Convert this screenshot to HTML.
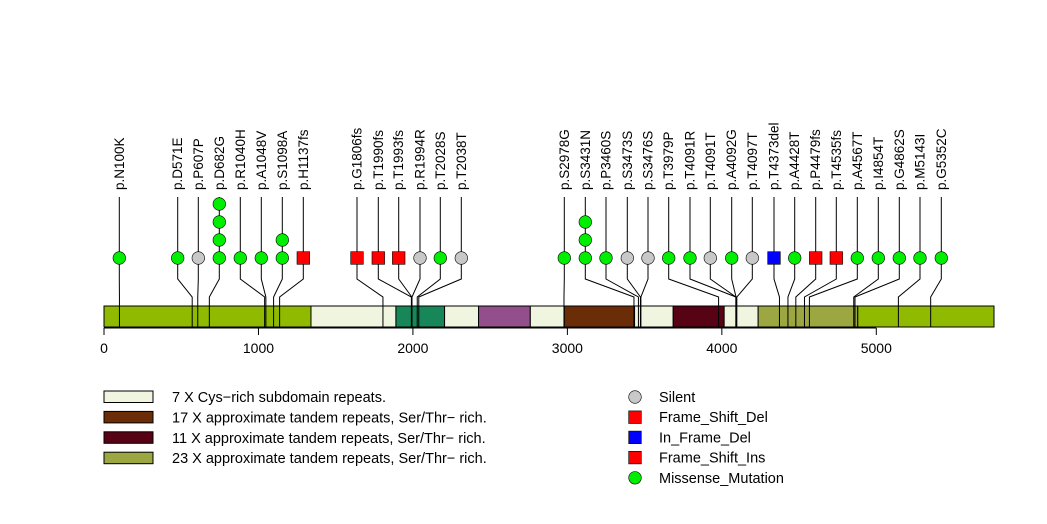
<!DOCTYPE html>
<html><head><meta charset="utf-8">
<style>
html,body{margin:0;padding:0;background:#fff;}
svg{display:block;font-family:"Liberation Sans",Arial,sans-serif;}
</style></head>
<body>
<svg id="chart" width="1047" height="524" viewBox="0 0 1047 524" xmlns="http://www.w3.org/2000/svg"></svg>
<script>
const proteinLength = 5762;
const domainStarts = [1340, 1890, 2205, 2425, 2760, 2980, 3435, 3685, 4015, 4235, 4880];
const domainEnds   = [1890, 2205, 2425, 2760, 2980, 3435, 3685, 4015, 4235, 4880, 5762];
const domainColors = ["#f0f5e0","#17875a","#f0f5e0","#924f8c","#f0f5e0","#6b2c08","#f0f5e0","#580315","#f0f5e0","#9ca742","#8fba00"];
const mutLabels = ["p.N100K","p.D571E","p.P607P","p.D682G","p.R1040H","p.A1048V","p.S1098A","p.H1137fs","p.G1806fs","p.T1990fs","p.T1993fs","p.R1994R","p.T2028S","p.T2038T","p.S2978G","p.S3431N","p.P3460S","p.S3473S","p.S3476S","p.T3979P","p.T4091R","p.T4091T","p.A4092G","p.T4097T","p.T4373del","p.A4428T","p.P4479fs","p.T4535fs","p.A4567T","p.I4854T","p.G4862S","p.M5143I","p.G5352C"];
const mutPositions = [100,571,607,682,1040,1048,1098,1137,1806,1990,1993,1994,2028,2038,2978,3431,3460,3473,3476,3979,4091,4091,4092,4097,4373,4428,4479,4535,4567,4854,4862,5143,5352];
const mutCounts = [1,1,1,4,1,1,2,1,1,1,1,1,1,1,1,3,1,1,1,1,1,1,1,1,1,1,1,1,1,1,1,1,1];
const mutTypes = ["M","M","S","M","M","M","M","FD","FD","FD","FD","S","M","S","M","M","M","S","S","M","M","S","M","S","IFD","M","FD","FI","M","M","M","M","M"];
const headXs = [119.3,177.7,198.3,219.3,240.3,261.3,282.3,303.3,357,378.3,398.7,420,440.3,461.3,564.3,585.3,606,627.3,648,668.7,690,710.3,731.7,752.3,774,794.7,815.7,836.3,857.3,878.3,899.3,920,941.3];
const axisTicks = [0,1000,2000,3000,4000,5000];
const legendDomainNames = ["7 X Cys\u2212rich subdomain repeats.","17 X approximate tandem repeats, Ser/Thr\u2212 rich.","11 X approximate tandem repeats, Ser/Thr\u2212 rich.","23 X approximate tandem repeats, Ser/Thr\u2212 rich."];
const legendDomainColors = ["#f0f5e0","#6b2c08","#580315","#9ca742"];
const legendTypeNames = ["Silent","Frame_Shift_Del","In_Frame_Del","Frame_Shift_Ins","Missense_Mutation"];
const legendTypeKeys = ["S","FD","IFD","FI","M"];

const NS="http://www.w3.org/2000/svg";
const svg=document.getElementById('chart');
const X0=104, X1=994, BT=306, BB=327;
function xs(v){return X0+(v/proteinLength)*(X1-X0);}
function mk(tag,attrs,parent){const e=document.createElementNS(NS,tag);for(const k in attrs)e.setAttribute(k,attrs[k]);(parent||svg).appendChild(e);return e;}
const typeFill={S:"#c8c8c8",FD:"#ff0000",IFD:"#0000ff",FI:"#ff0000",M:"#00ee00"};
function symbol(type,cx,cy,name){
  let e;
  if(type==="M"||type==="S"){e=mk('circle',{cx:cx,cy:cy,r:6.3,fill:typeFill[type],stroke:"#000","stroke-width":0.6});}
  else{e=mk('rect',{x:cx-6.3,y:cy-6.3,width:12.6,height:12.6,fill:typeFill[type],stroke:"#000","stroke-width":0.6});}
  
  
  return e;
}

const base=mk('rect',{x:X0,y:BT,width:X1-X0,height:BB-BT,fill:"#8fba00",stroke:"#000","stroke-width":1});


for(let i=0;i<domainStarts.length;i++){
  const d=mk('rect',{x:xs(domainStarts[i]),y:BT,width:xs(domainEnds[i])-xs(domainStarts[i]),height:BB-BT,fill:domainColors[i],stroke:"#000","stroke-width":1});
  
  
}

for(let i=0;i<mutLabels.length;i++){
  const px=xs(mutPositions[i]), hx=headXs[i];
  const g=mk('g',{});
  
  
  mk('polyline',{points:`${px},${BB} ${px},297 ${hx},279 ${hx},258`,fill:"none",stroke:"#000","stroke-width":1},g);
  const topY=258-18*(mutCounts[i]-1);
  if(mutCounts[i]>1) mk('line',{x1:hx,y1:258,x2:hx,y2:topY,stroke:"#000","stroke-width":1},g);
  mk('line',{x1:hx,y1:topY,x2:hx,y2:197,stroke:"#000","stroke-width":1},g);
  for(let k=0;k<mutCounts[i];k++){g.appendChild(symbol(mutTypes[i],hx,258-18*k,'mutation-marker'));}
  const t=mk('text',{x:0,y:0,transform:`translate(${hx+4.5},190) rotate(-90)`,"font-size":"13.5",fill:"#000"},g);
  t.textContent=mutLabels[i];
  
  
}

const ax=mk('g',{});


mk('line',{x1:xs(0),y1:328,x2:xs(axisTicks[axisTicks.length-1]),y2:328,stroke:"#000","stroke-width":1},ax);
axisTicks.forEach(v=>{
  mk('line',{x1:xs(v),y1:328,x2:xs(v),y2:335,stroke:"#000","stroke-width":1},ax);
  const t=mk('text',{x:xs(v),y:353,"text-anchor":"middle","font-size":"14"},ax);
  t.textContent=v;
  
  
});

legendDomainNames.forEach((n,i)=>{
  const y=391+20.4*i;
  const g=mk('g',{});
  
  
  mk('rect',{x:104,y:y,width:49,height:11.5,fill:legendDomainColors[i],stroke:"#000","stroke-width":1},g);
  const t=mk('text',{x:172,y:y+11,"font-size":"14.5"},g);t.textContent=n;
});
legendTypeNames.forEach((n,i)=>{
  const y=397+20.2*i;
  const g=mk('g',{});
  
  
  g.appendChild(symbol(legendTypeKeys[i],635,y,'legend-symbol'));
  const t=mk('text',{x:659,y:y+5,"font-size":"14.5"},g);t.textContent=n;
});
</script>
</body></html>
